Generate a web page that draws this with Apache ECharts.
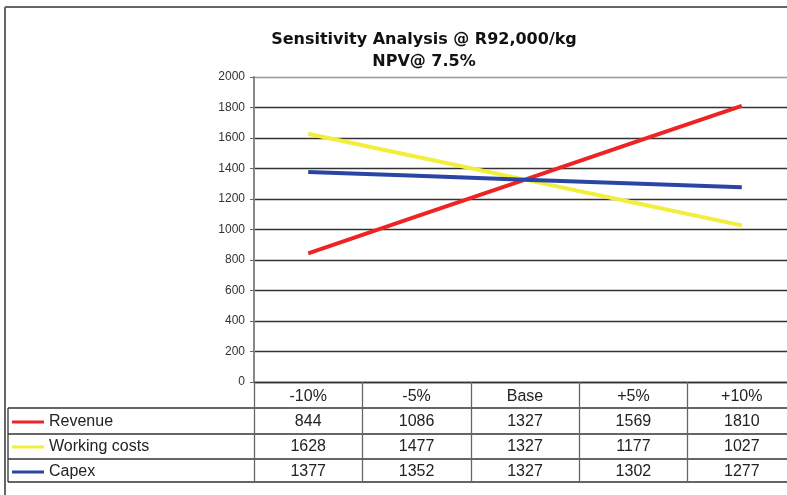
<!DOCTYPE html>
<html>
<head>
<meta charset="utf-8">
<script src="https://cdn.jsdelivr.net/npm/echarts@6/dist/echarts.min.js"></script>
<style>
  html, body { margin: 0; padding: 0; background: #fff; }
  #chart { width: 787px; height: 495px; }
</style>
</head>
<body>
<div id="chart"></div>
<script>
// Sensitivity of NPV to a ±10% change in each driver
const categories = ['-10%', '-5%', 'Base', '+5%', '+10%'];
const revenue = [844, 1086, 1327, 1569, 1810];
const workingCosts = [1628, 1477, 1327, 1177, 1027];
const capex = [1377, 1352, 1327, 1302, 1277];
const seriesNames = ['Revenue', 'Working costs', 'Capex'];
const yTicks = [0, 200, 400, 600, 800, 1000, 1200, 1400, 1600, 1800, 2000];

const seriesValues = [revenue, workingCosts, capex];
const seriesColors = ['#ee2424', '#f2ee3c', '#2b45a3'];

const chart = echarts.init(document.getElementById('chart'));

// Table rows under the axis: header cell plus one value per series
function columnText(value, index) {
  const lines = [value].concat(seriesValues.map(s => String(s[index])));
  return lines.join('\n');
}

const tableLines = [408, 434, 459, 482].map(y => ({
  type: 'line',
  shape: { x1: 8, y1: y, x2: 787, y2: y },
  style: { stroke: '#333', lineWidth: 1.3 }
}));

chart.setOption({
  animation: false,
  backgroundColor: '#fff',
  textStyle: { fontFamily: 'Liberation Sans, Arial, sans-serif' },
  grid: { left: 254, top: 77, height: 305, width: 542, containLabel: false, outerBoundsMode: 'none' },
  legend: {
    data: seriesNames,
    orient: 'vertical',
    left: 7,
    top: 405,
    icon: 'rect',
    itemWidth: 32,
    itemHeight: 3,
    itemGap: 1,
    textStyle: { fontSize: 16, color: '#222', lineHeight: 24, padding: [0, 0, 0, 0] }
  },
  xAxis: {
    type: 'category',
    data: categories,
    boundaryGap: true,
    axisLine: { show: true, lineStyle: { color: '#333', width: 1.3 } },
    axisTick: { show: true, interval: 0, length: 100, lineStyle: { color: '#666', width: 1.3 } },
    axisLabel: {
      interval: 0,
      margin: 2,
      fontSize: 16,
      color: '#222',
      lineHeight: 25,
      formatter: columnText
    },
    splitLine: { show: false }
  },
  yAxis: {
    type: 'value',
    min: yTicks[0],
    max: yTicks[yTicks.length - 1],
    interval: 200,
    axisLine: { show: true, lineStyle: { color: '#888', width: 2 } },
    axisTick: { show: true, length: 4, lineStyle: { color: '#666' } },
    axisLabel: { fontSize: 12, color: '#333', margin: 9, formatter: v => String(v) },
    splitLine: {
      show: true,
      lineStyle: {
        color: ['#333', '#333', '#333', '#333', '#333', '#333', '#333', '#333', '#333', '#333', '#999'],
        width: 1.3
      }
    }
  },
  series: seriesNames.map((name, i) => ({
    name: name,
    type: 'line',
    data: seriesValues[i],
    symbol: 'none',
    color: seriesColors[i],
    lineStyle: { width: 4, color: seriesColors[i] },
    z: 3
  })),
  graphic: [
    // outer frame
    { type: 'line', shape: { x1: 5, y1: 7, x2: 787, y2: 7 }, style: { stroke: '#666', lineWidth: 2 } },
    { type: 'line', shape: { x1: 5, y1: 7, x2: 5, y2: 495 }, style: { stroke: '#666', lineWidth: 2 } },
    // data table left edge and row rules
    { type: 'line', shape: { x1: 8, y1: 408, x2: 8, y2: 482 }, style: { stroke: '#333', lineWidth: 1.3 } },
    ...tableLines,
    {
      type: 'text',
      x: 424, y: 40,
      style: {
        text: 'Sensitivity Analysis @ R92,000/kg',
        font: 'bold 16px "DejaVu Sans", sans-serif',
        fill: '#111',
        textAlign: 'center',
        textVerticalAlign: 'middle'
      }
    },
    {
      type: 'text',
      x: 424, y: 62,
      style: {
        text: 'NPV@ 7.5%',
        font: 'bold 16px "DejaVu Sans", sans-serif',
        fill: '#111',
        textAlign: 'center',
        textVerticalAlign: 'middle'
      }
    }
  ]
});
</script>
</body>
</html>
